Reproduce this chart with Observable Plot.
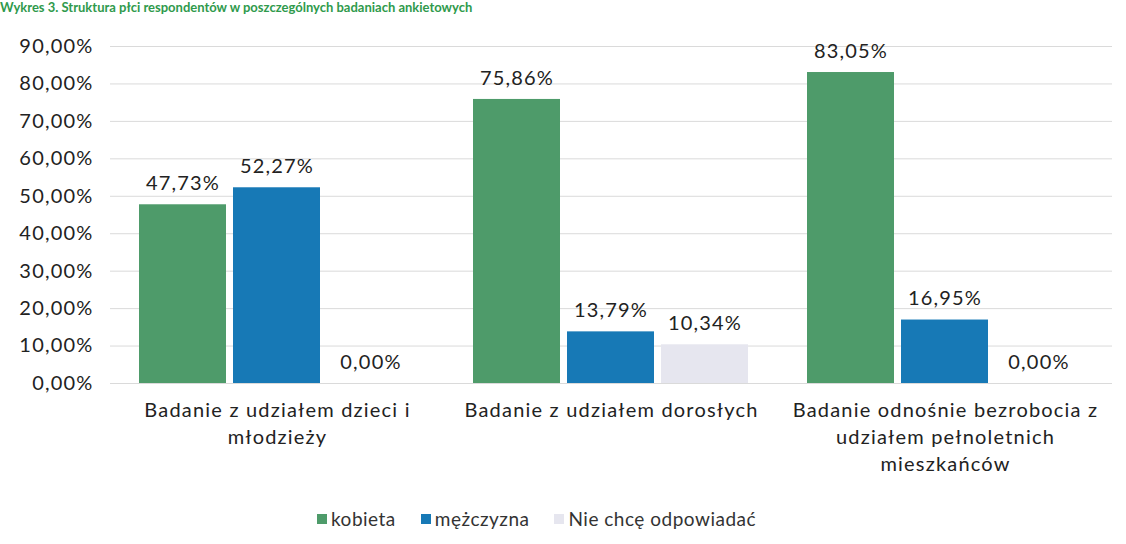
<!DOCTYPE html>
<html><head><meta charset="utf-8">
<script src="https://cdn.jsdelivr.net/npm/d3@7"></script>
<script src="https://cdn.jsdelivr.net/npm/@observablehq/plot@0.6"></script>
<style>
body{margin:0;background:#fff;font-family:Lato,sans-serif;position:relative;width:1126px;height:544px;overflow:hidden}
#title{position:absolute;top:1px;left:0;color:#2f9a4c;font-weight:bold;font-size:13px;line-height:1;white-space:nowrap}
#chart{position:absolute;top:0;left:0}
#legend{position:absolute;top:507px;left:317px;display:flex;align-items:center;font-size:19px;letter-spacing:0.5px;color:#333}
#legend .item{display:flex;align-items:center;margin-right:25px}
#legend .sw{width:10px;height:10px;margin-right:4px}
</style></head>
<body>
<div id="chart"></div>
<div id="title">Wykres 3. Struktura płci respondentów w poszczególnych badaniach ankietowych</div>
<div id="legend"></div>
<script>
const categories = ["Badanie z udziałem dzieci i młodzieży", "Badanie z udziałem dorosłych", "Badanie odnośnie bezrobocia z udziałem pełnoletnich mieszkańców"];
const categoryLabels = ["Badanie z udziałem dzieci i\nmłodzieży", "Badanie z udziałem dorosłych", "Badanie odnośnie bezrobocia z\nudziałem pełnoletnich\nmieszkańców"];
const series = ["kobieta", "mężczyzna", "Nie chcę odpowiadać"];
const kobieta = [47.73, 75.86, 83.05];
const mezczyzna = [52.27, 13.79, 16.95];
const nieChce = [0.00, 10.34, 0.00];
const yTicks = [0, 10, 20, 30, 40, 50, 60, 70, 80, 90];
const colors = ["#4e9b6a", "#1779b6", "#e6e6ef"];

const seriesValues = [kobieta, mezczyzna, nieChce];
const rows = [];
categories.forEach((c, i) => series.forEach((s, j) => rows.push({category: c, series: s, value: seriesValues[j][i]})));
const fmt = v => v.toFixed(2).replace(".", ",") + "%";

const chart = Plot.plot({
  width: 1126, height: 490,
  marginLeft: 110, marginRight: 14, marginTop: 46, marginBottom: 107,
  style: {fontFamily: "Lato, sans-serif", background: "transparent", letterSpacing: "1.2px"},
  fx: {domain: categories, padding: 0, label: null, axis: null},
  x: {domain: series, paddingInner: 0.074, paddingOuter: 0.295, axis: null},
  y: {domain: [0, 90], axis: null},
  color: {domain: series, range: colors},
  marks: [
    Plot.gridY(yTicks, {stroke: "#dadada", strokeOpacity: 1}),
    Plot.axisY(yTicks, {tickFormat: fmt, tickSize: 0, tickPadding: 17, fontSize: 20, fill: "#222", label: null}),
    Plot.axisFx({tickFormat: d => categoryLabels[categories.indexOf(d)], tickSize: 0, tickPadding: 15, fontSize: 20, lineHeight: 1.33, fill: "#222", label: null, anchor: "bottom"}),
    Plot.barY(rows, {fx: "category", x: "series", y: "value", fill: "series"}),
    Plot.text(rows, {fx: "category", x: "series", y: "value", text: d => fmt(d.value), dy: -21, fontSize: 20, fill: "#222"})
  ]
});
document.getElementById("chart").appendChild(chart);

const legend = document.getElementById("legend");
series.forEach((s, i) => {
  const item = document.createElement("div");
  item.className = "item";
  const sw = document.createElement("div");
  sw.className = "sw";
  sw.style.background = colors[i];
  const t = document.createElement("span");
  t.textContent = s;
  item.appendChild(sw); item.appendChild(t);
  legend.appendChild(item);
});
</script>
</body></html>
